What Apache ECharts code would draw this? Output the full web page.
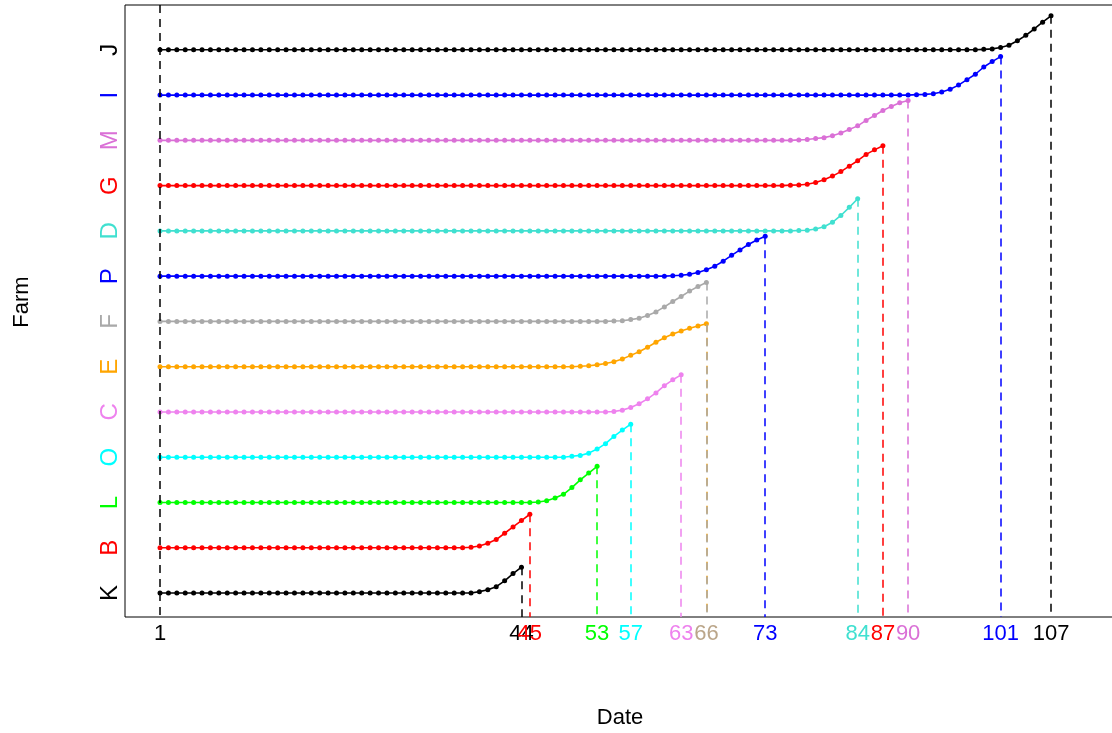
<!DOCTYPE html>
<html>
<head>
<meta charset="utf-8">
<script src="https://cdn.jsdelivr.net/npm/echarts@6/dist/echarts.min.js"></script>
<style>html,body{margin:0;padding:0;background:#fff}#chart{width:1112px;height:733px}</style>
</head>
<body>
<div id="chart"></div>
<script>
// Farms from bottom (1) to top (13)
const farms = ['K','B','L','O','C','E','F','P','D','G','M','I','J'];
const farmColors = ['#000000','#FF0000','#00FF00','#00FFFF','#EE82EE','#FFA500','#A9A9A9','#0000FF','#40E0D0','#FF0000','#DA70D6','#0000FF','#000000'];
const endDays = [44,45,53,57,63,66,66,73,84,87,90,101,107];
const firstDay = 1;
// Rise above each farm's baseline (in farm units) for the last days up to its end day
const riseK = [0.03,0.07,0.14,0.27,0.43,0.57];
const riseB = [0.01,0.04,0.10,0.18,0.32,0.46,0.60,0.74];
const riseL = [0.01,0.04,0.10,0.18,0.33,0.50,0.65,0.80];
const riseO = [0.02,0.04,0.09,0.18,0.30,0.46,0.60,0.73];
const riseC = [0.01,0.04,0.10,0.18,0.29,0.42,0.58,0.71,0.82];
const riseE = [0.01,0.02,0.04,0.07,0.11,0.17,0.25,0.33,0.43,0.54,0.64,0.72,0.79,0.85,0.90,0.95];
const riseF = [0.01,0.015,0.04,0.07,0.13,0.21,0.32,0.44,0.55,0.67,0.77,0.86];
const riseP = [0.01,0.02,0.04,0.08,0.14,0.22,0.33,0.46,0.58,0.70,0.80,0.88];
const riseD = [0.01,0.015,0.04,0.09,0.19,0.34,0.52,0.71];
const riseG = [0.01,0.015,0.03,0.07,0.13,0.21,0.31,0.43,0.55,0.69,0.79,0.88];
const riseM = [0.01,0.02,0.04,0.06,0.10,0.16,0.24,0.32,0.44,0.55,0.66,0.75,0.83,0.88];
const riseI = [0.01,0.015,0.03,0.07,0.13,0.22,0.34,0.46,0.62,0.74,0.85];
const riseJ = [0.01,0.02,0.05,0.10,0.20,0.32,0.46,0.61,0.75];
const rises = [riseK,riseB,riseL,riseO,riseC,riseE,riseF,riseP,riseD,riseG,riseM,riseI,riseJ];

// Date tick labels and their colours
const dateTicks = [1,44,45,53,57,63,66,73,84,87,90,101,107];
const dateTickColors = ['#000000','#000000','#FF0000','#00FF00','#00FFFF','#EE82EE','#BBA68A','#0000FF','#40E0D0','#FF0000','#DA70D6','#0000FF','#000000'];

const yMin = 0.47, yMax = 13.99;
const xMin = -3.164, xMax = 114.85;
const FONT = '"Liberation Sans", Arial, Helvetica, sans-serif';
const FS = 22;
const FSY = 24;

const series = farms.map((f, i) => {
  const base = i + 1;
  const tail = rises[i];
  const end = endDays[i];
  const tailStart = end - tail.length + 1;
  const data = [];
  for (let d = firstDay; d <= end; d++) {
    const r = d >= tailStart ? tail[d - tailStart] : 0;
    data.push([d, base + r]);
  }
  const last = data[data.length - 1];
  return {
    type: 'line', name: f, data: data,
    symbol: 'circle', symbolSize: 5, showSymbol: true,
    lineStyle: { color: farmColors[i], width: 1.6 },
    itemStyle: { color: farmColors[i] },
    z: 3,
    markLine: {
      silent: true, symbol: ['none','none'], animation: false,
      label: { show: false },
      lineStyle: { color: farmColors[i], type: [8,6], width: 1.5, opacity: 1 },
      data: [[{ coord: [end, last[1]] }, { coord: [end, yMin] }]]
    }
  };
});
// vertical dashed line at the first day
series.push({
  type: 'line', data: [], markLine: {
    silent: true, symbol: ['none','none'], animation: false, label: { show: false },
    lineStyle: { color: '#000', type: [8,6], width: 1.5, opacity: 1 },
    data: [[{ coord: [firstDay, yMax] }, { coord: [firstDay, yMin] }]]
  }
});

const xRich = {}; dateTicks.forEach((t, i) => { xRich['d' + i] = { color: dateTickColors[i], fontSize: FS, fontFamily: FONT }; });
const yRich = {}; farms.forEach((f, i) => { yRich['f' + i] = { color: farmColors[i], fontSize: FSY, fontFamily: FONT }; });

const chart = echarts.init(document.getElementById('chart'), null, { renderer: 'canvas' });
chart.setOption({
  animation: false,
  backgroundColor: '#fff',
  grid: { left: 125, top: 5, width: 992, height: 612, outerBoundsMode: 'none', containLabel: false, show: true, borderColor: '#000', borderWidth: 1, backgroundColor: 'transparent' },
  xAxis: {
    type: 'value', min: xMin, max: xMax,
    axisLine: { show: false }, axisTick: { show: false }, splitLine: { show: false },
    axisLabel: {
      customValues: dateTicks, margin: 6,
      formatter: (v) => { const i = dateTicks.indexOf(v); return '{d' + i + '|' + v + '}'; },
      rich: xRich
    }
  },
  yAxis: {
    type: 'value', min: yMin, max: yMax,
    axisLine: { show: false }, axisTick: { show: false }, splitLine: { show: false },
    axisLabel: {
      customValues: farms.map((f, i) => i + 1), rotate: 90, margin: 3,
      formatter: (v) => { const i = Math.round(v) - 1; return '{f' + i + '|' + farms[i] + '}'; },
      rich: yRich
    }
  },
  graphic: [
    { type: 'text', x: 620, y: 718, style: { text: 'Date', fontSize: FS, fontFamily: FONT, fill: '#000', align: 'center', verticalAlign: 'middle' } },
    { type: 'text', x: 22, y: 302, rotation: Math.PI / 2, style: { text: 'Farm', fontSize: FS, fontFamily: FONT, fill: '#000', align: 'center', verticalAlign: 'middle' } }
  ],
  series: series
});
</script>
</body>
</html>
